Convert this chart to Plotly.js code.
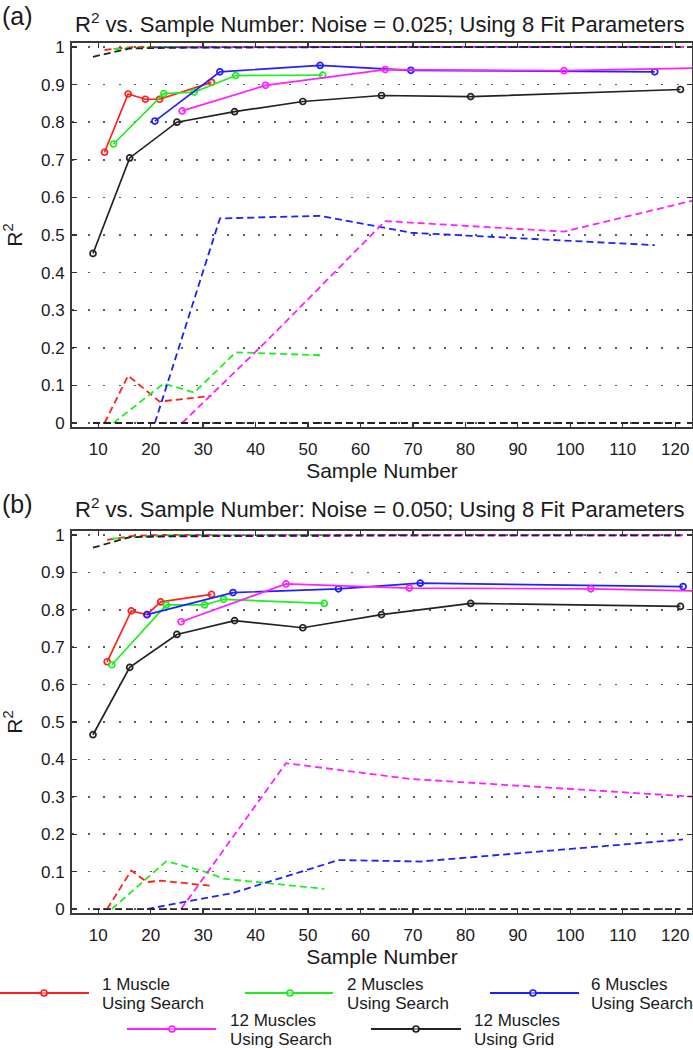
<!DOCTYPE html>
<html>
<head>
<meta charset="utf-8">
<script src="https://cdn.plot.ly/plotly-3.0.1.min.js"></script>
<style>html,body{margin:0;padding:0;background:#fff;}#chart{width:693px;height:1050px;}</style>
</head>
<body>
<div id="chart"></div>
<script>
// ---------- DATA ----------
const seriesNames = ["1 Muscle", "2 Muscles", "6 Muscles", "12 Muscles", "12 Muscles"];
const seriesMethods = ["Using Search", "Using Search", "Using Search", "Using Search", "Using Grid"];
const xTickVals = [10, 20, 30, 40, 50, 60, 70, 80, 90, 100, 110, 120];
const yTickVals = [0, 0.1, 0.2, 0.3, 0.4, 0.5, 0.6, 0.7, 0.8, 0.9, 1];
const yTickText = ["0", "0.1", "0.2", "0.3", "0.4", "0.5", "0.6", "0.7", "0.8", "0.9", "1"];
const panelTitles = ["R<sup>2</sup> vs. Sample Number: Noise = 0.025; Using 8 Fit Parameters",
                     "R<sup>2</sup> vs. Sample Number: Noise = 0.050; Using 8 Fit Parameters"];
const panelLabels = ["(a)", "(b)"];

// Panel (a): noise 0.025
const a_m1_x   = [11.2, 15.7, 19.0, 21.7, 31.6];
const a_m1_fit = [0.720, 0.875, 0.861, 0.861, 0.906];
const a_m1_hi  = [0.992, 0.999, 1.000, 1.000, 1.000];
const a_m1_lo  = [0.000, 0.126, 0.088, 0.057, 0.072];

const a_m2_x   = [12.9, 22.5, 28.3, 36.2, 52.8];
const a_m2_fit = [0.742, 0.876, 0.880, 0.924, 0.925];
const a_m2_hi  = [0.995, 1.000, 1.000, 1.000, 1.000];
const a_m2_lo  = [0.000, 0.105, 0.081, 0.188, 0.180];

const a_m6_x   = [20.8, 33.2, 52.3, 69.6, 116.1];
const a_m6_fit = [0.803, 0.934, 0.951, 0.938, 0.934];
const a_m6_hi  = [0.999, 1.000, 1.000, 1.000, 1.000];
const a_m6_lo  = [0.000, 0.544, 0.551, 0.506, 0.473];

const a_m12_x   = [26.0, 41.9, 64.7, 98.8, 125.0];
const a_m12_fit = [0.830, 0.898, 0.940, 0.937, 0.944];
const a_m12_hi  = [0.999, 1.000, 1.000, 1.000, 1.000];
const a_m12_lo  = [0.000, 0.215, 0.537, 0.509, 0.597];

const a_grid_x   = [9, 16, 25, 36, 49, 64, 81, 121];
const a_grid_fit = [0.451, 0.705, 0.800, 0.828, 0.855, 0.871, 0.868, 0.887];
const a_grid_hi  = [0.974, 0.996, 0.998, 0.999, 0.999, 1.000, 1.000, 1.000];
const a_grid_lo  = [0, 0, 0, 0, 0, 0, 0, 0];

// Panel (b): noise 0.050
const b_m1_x   = [11.7, 16.3, 19.3, 21.9, 31.6];
const b_m1_fit = [0.661, 0.797, 0.787, 0.821, 0.841];
const b_m1_hi  = [0.987, 0.997, 0.999, 1.000, 1.000];
const b_m1_lo  = [0.000, 0.103, 0.072, 0.076, 0.062];

const b_m2_x   = [12.6, 23.0, 30.3, 33.9, 53.1];
const b_m2_fit = [0.653, 0.813, 0.813, 0.828, 0.817];
const b_m2_hi  = [0.990, 0.999, 1.000, 1.000, 1.000];
const b_m2_lo  = [0.000, 0.128, 0.100, 0.081, 0.054];

const b_m6_x   = [19.3, 35.7, 55.8, 71.4, 121.5];
const b_m6_fit = [0.787, 0.846, 0.856, 0.871, 0.862];
const b_m6_hi  = [0.996, 0.997, 0.998, 0.999, 0.999];
const b_m6_lo  = [0.000, 0.043, 0.131, 0.127, 0.186];

const b_m12_x   = [25.8, 45.8, 69.3, 103.9, 125.0];
const b_m12_fit = [0.768, 0.869, 0.858, 0.856, 0.850];
const b_m12_hi  = [0.998, 1.000, 1.000, 1.000, 1.000];
const b_m12_lo  = [0.000, 0.390, 0.348, 0.317, 0.299];

const b_grid_x   = [9, 16, 25, 36, 49, 64, 81, 121];
const b_grid_fit = [0.466, 0.646, 0.734, 0.771, 0.752, 0.787, 0.817, 0.809];
const b_grid_hi  = [0.966, 0.994, 0.997, 0.998, 0.999, 0.999, 0.999, 0.999];
const b_grid_lo  = [0, 0, 0, 0, 0, 0, 0, 0];

// ---------- STYLE ----------
const colors = ["#ff1f1f", "#1fee1f", "#1f1fff", "#ff1fff", "#222222"];
const FONT = "Liberation Sans, Arial, Helvetica, sans-serif";
const TXT = "#1a1a1a";

const panels = [
  { x: [a_m1_x, a_m2_x, a_m6_x, a_m12_x, a_grid_x],
    fit: [a_m1_fit, a_m2_fit, a_m6_fit, a_m12_fit, a_grid_fit],
    hi: [a_m1_hi, a_m2_hi, a_m6_hi, a_m12_hi, a_grid_hi],
    lo: [a_m1_lo, a_m2_lo, a_m6_lo, a_m12_lo, a_grid_lo] },
  { x: [b_m1_x, b_m2_x, b_m6_x, b_m12_x, b_grid_x],
    fit: [b_m1_fit, b_m2_fit, b_m6_fit, b_m12_fit, b_grid_fit],
    hi: [b_m1_hi, b_m2_hi, b_m6_hi, b_m12_hi, b_grid_hi],
    lo: [b_m1_lo, b_m2_lo, b_m6_lo, b_m12_lo, b_grid_lo] }
];

const traces = [];
panels.forEach((p, pi) => {
  const xa = pi === 0 ? "x" : "x2";
  const ya = pi === 0 ? "y" : "y2";
  for (let s = 0; s < 5; s++) {
    ["hi", "lo"].forEach(k => {
      traces.push({
        type: "scatter", mode: "lines", x: p.x[s], y: p[k][s], xaxis: xa, yaxis: ya,
        line: { color: colors[s], width: 1.8, dash: "7px,4px" },
        showlegend: false, hoverinfo: "skip", cliponaxis: true
      });
    });
  }
  for (let s = 0; s < 5; s++) {
    traces.push({
      type: "scatter", mode: "lines+markers", x: p.x[s], y: p.fit[s], xaxis: xa, yaxis: ya,
      name: seriesNames[s] + " " + seriesMethods[s],
      line: { color: colors[s], width: 1.7 },
      marker: { symbol: "circle-open", size: 6, color: colors[s], line: { width: 1.7, color: colors[s] } },
      showlegend: false, cliponaxis: true
    });
  }
});

// ---------- LAYOUT ----------
const W = 693, H = 1050, L = 72, R = 1;
const PW = W - L - R;
const px2x = px => (px - L) / PW;
const py2y = py => (H - py) / H;

function xAxis(anchor) {
  return {
    anchor: anchor, domain: [0, 1], range: [5, 123.2],
    tickmode: "array", tickvals: xTickVals, ticktext: xTickVals.map(String),
    ticks: "inside", ticklen: 5, tickwidth: 1.3, tickcolor: "#333",
    showline: true, linecolor: "#3a3a3a", linewidth: 2, mirror: "ticks",
    showgrid: false, zeroline: false, ticklabelstandoff: 6,
    tickfont: { family: FONT, size: 17, color: TXT },
    title: { text: "Sample Number", font: { family: FONT, size: 21, color: TXT }, standoff: 4 }
  };
}
function yAxis(anchor, domain) {
  return {
    anchor: anchor, domain: domain, range: [-0.0106, 1.0106],
    tickmode: "array", tickvals: yTickVals, ticktext: yTickText,
    ticks: "inside", ticklen: 5, tickwidth: 1.3, tickcolor: "#333",
    showline: true, linecolor: "#3a3a3a", linewidth: 2, mirror: "ticks",
    showgrid: true, gridcolor: "#5a5a5a", gridwidth: 1.7, griddash: "2px,13.5px",
    zeroline: false, ticklabelstandoff: 2,
    tickfont: { family: FONT, size: 17, color: TXT },
    title: { text: "R<sup>2</sup>", font: { family: FONT, size: 21, color: TXT }, standoff: 14 }
  };
}

const annotations = [];
const shapes = [];
const titleY = [22.5, 508];
const labelY = [16, 504];
for (let i = 0; i < 2; i++) {
  annotations.push({ xref: "paper", yref: "paper", x: px2x(0), y: py2y(labelY[i]), xanchor: "left", yanchor: "middle",
    text: panelLabels[i], showarrow: false, font: { family: FONT, size: 25, color: TXT } });
  annotations.push({ xref: "paper", yref: "paper", x: px2x(380), y: py2y(titleY[i]), xanchor: "center", yanchor: "middle",
    text: panelTitles[i], showarrow: false, font: { family: FONT, size: 22, color: TXT } });
}

// Legend (drawn manually to match the staggered two-row layout)
const legendPos = [
  { x0: 0, x1: 89, mk: 44, tx: 100, y: 993 },
  { x0: 245, x1: 333, mk: 290, tx: 345, y: 993 },
  { x0: 490, x1: 579, mk: 533, tx: 589, y: 993 },
  { x0: 127, x1: 216, mk: 172, tx: 228, y: 1029 },
  { x0: 371, x1: 461, mk: 416, tx: 472, y: 1029 }
];
legendPos.forEach((lp, s) => {
  shapes.push({ type: "line", xref: "paper", yref: "paper", x0: px2x(lp.x0), x1: px2x(lp.x1), y0: py2y(lp.y), y1: py2y(lp.y),
    line: { color: colors[s], width: 2 } });
  shapes.push({ type: "circle", xref: "paper", yref: "paper", xsizemode: "pixel", ysizemode: "pixel",
    xanchor: px2x(lp.mk), yanchor: py2y(lp.y), x0: -3, x1: 3, y0: -3, y1: 3,
    line: { color: colors[s], width: 1.7 }, fillcolor: "rgba(255,255,255,0.5)" });
  annotations.push({ xref: "paper", yref: "paper", x: px2x(lp.tx), y: py2y(lp.y - 8.5), xanchor: "left", yanchor: "middle",
    text: seriesNames[s], showarrow: false, font: { family: FONT, size: 17, color: TXT } });
  annotations.push({ xref: "paper", yref: "paper", x: px2x(lp.tx), y: py2y(lp.y + 10), xanchor: "left", yanchor: "middle",
    text: seriesMethods[s], showarrow: false, font: { family: FONT, size: 17, color: TXT } });
});

const layout = {
  width: W, height: H,
  margin: { l: L, r: R, t: 0, b: 0, pad: 0 },
  paper_bgcolor: "#ffffff", plot_bgcolor: "#ffffff",
  showlegend: false,
  font: { family: FONT, color: TXT },
  xaxis: xAxis("y"),
  yaxis: yAxis("x", [py2y(427), py2y(43)]),
  xaxis2: xAxis("y2"),
  yaxis2: yAxis("x2", [py2y(913), py2y(531)]),
  annotations: annotations,
  shapes: shapes
};

Plotly.newPlot("chart", traces, layout, { displayModeBar: false, staticPlot: true });
</script>
</body>
</html>
